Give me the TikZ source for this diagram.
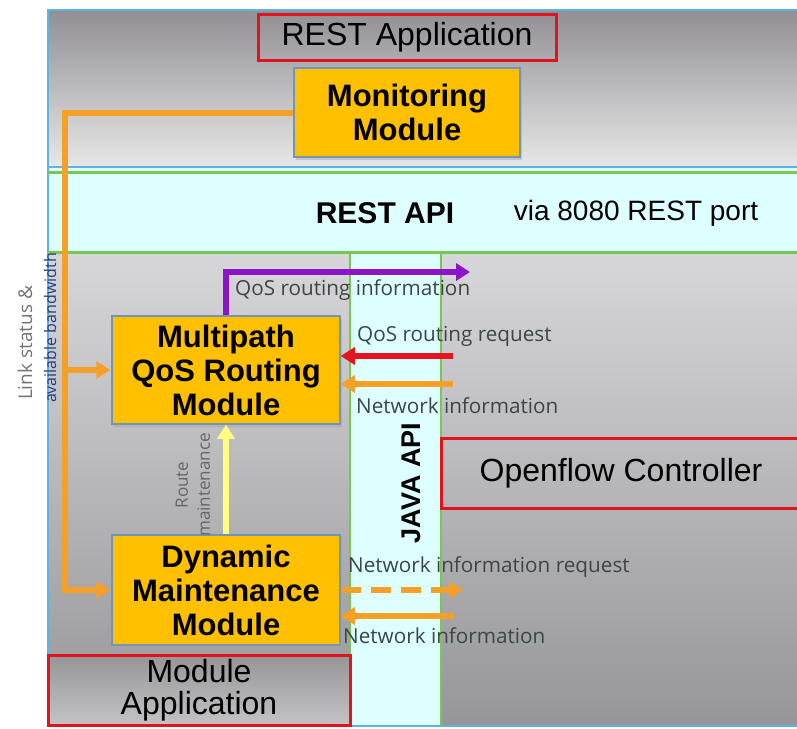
\documentclass[tikz,border=0pt]{standalone}
\usepackage{fontspec}
\setmainfont{Liberation Sans}
\newfontfamily\labfont{Open Sans}
\usetikzlibrary{arrows.meta,shadows}
\definecolor{boxfill}{RGB}{255,192,0}
\definecolor{boxline}{RGB}{110,150,190}
\definecolor{orng}{RGB}{247,160,40}
\definecolor{purp}{RGB}{140,20,200}
\definecolor{redl}{RGB}{230,20,30}
\definecolor{yell}{RGB}{255,255,130}
\definecolor{cyanbg}{RGB}{222,255,255}
\definecolor{grnl}{RGB}{120,200,80}
\definecolor{bluel}{RGB}{90,180,230}
\definecolor{redbox}{RGB}{225,20,30}
\definecolor{labtxt}{RGB}{60,70,72}
\definecolor{bwtxt}{RGB}{40,60,120}
\begin{document}
\begin{tikzpicture}[x=1pt,y=-1pt,
  modbox/.style={draw=boxline, line width=1.5pt, fill=boxfill, minimum width=228pt,
    minimum height=108pt, align=center, inner sep=0pt,
    font=\bfseries\fontsize{31}{34}\selectfont,
    drop shadow={shadow xshift=2pt, shadow yshift=-3pt, fill=black!35}},
  redframe/.style={draw=redbox, line width=3pt, align=center, inner sep=0pt,
    font=\fontsize{32}{36}\selectfont},
  lab/.style={font=\labfont\fontsize{20.7}{22}\selectfont, text=labtxt, anchor=west, inner sep=0pt},
  tip/.style={-{Triangle[length=14pt,width=17pt]}},
  oarrow/.style={orng, line width=6pt, tip},
  parrow/.style={purp, line width=6pt, tip},
  rarrow/.style={redl, line width=6pt, tip},
  yarrow/.style={yell, line width=6pt, tip},
  darrow/.style={orng, line width=6pt, tip, dash pattern=on 20pt off 10pt}]
\useasboundingbox (0,0) rectangle (797,728);
\begin{scope}
\clip (0,0) rectangle (797,728);
% backgrounds
\fill[top color={rgb,255:red,145;green,143;blue,148}, bottom color={rgb,255:red,232;green,232;blue,232}] (47,10) rectangle (800,168);
\fill[cyanbg] (47,168) rectangle (800,252);
\fill[top color={rgb,255:red,215;green,215;blue,218}, bottom color={rgb,255:red,150;green,150;blue,152}] (47,252) rectangle (800,726);
\fill[cyanbg] (350,252) rectangle (441,726);
\draw[bluel, line width=2.5pt] (800,10) -- (48,10) -- (48,726) -- (800,726);
\draw[bluel, line width=2.5pt] (48,167) -- (800,167);
\draw[grnl, line width=3pt] (48,172) -- (800,172);
\draw[grnl, line width=3pt] (48,252) -- (800,252);
\draw[grnl, line width=2.5pt] (350,252) -- (350,726);
\draw[grnl, line width=2.5pt] (441,252) -- (441,726);
% frames
\node[redframe, minimum width=298pt, minimum height=46pt] (restapp) at (407,37) {REST Application};
\node[redframe, minimum width=360pt, minimum height=70pt] (ofc) at (621,473) {Openflow Controller};
\node[redframe, minimum width=302pt, minimum height=70pt, top color={rgb,255:red,150;green,150;blue,152}, bottom color={rgb,255:red,195;green,195;blue,198}] (modapp) at (199,690) {Module\\[-4pt]Application};
% band texts
\node[font=\bfseries\fontsize{30}{34}\selectfont] (restapi) at (385,213) {REST API};
\node[font=\fontsize{28}{32}\selectfont] (via) at (636,213) {via 8080 REST port};
\node[rotate=90, font=\bfseries\fontsize{27}{30}\selectfont] (java) at (411,483) {JAVA API};
% modules
\node[modbox, minimum width=226pt, minimum height=89pt] (mon) at (407,112.5) {Monitoring\\Module};
\node[modbox] (mp) at (226,370) {Multipath\\QoS Routing\\Module};
\node[modbox, minimum height=110pt] (dyn) at (226,590) {Dynamic\\Maintenance\\Module};
% connectors
\coordinate (ltop) at (65,112.5);
\coordinate (lmid) at (65,370);
\coordinate (lbot) at (65,590);
\draw[oarrow, line join=miter] (mon.west) -- (ltop) -- (lbot) -- ([xshift=-1pt]dyn.west);
\draw[oarrow] (lmid) -- ([xshift=-1pt]mp.west);
\coordinate (pcorner) at (226,272);
\coordinate (pend) at (470,272);
\draw[parrow, line join=miter] (mp.north) -- (pcorner) -- (pend);
\coordinate (rs) at (453,356);
\draw[rarrow] (rs) -- (rs -| mp.east);
\coordinate (os) at (453,384);
\draw[oarrow] (os) -- (os -| mp.east);
\draw[yarrow] (dyn.north) -- (mp.south);
\coordinate (dq) at (463,590);
\draw[darrow] (dyn.east) -- (dq);
\coordinate (ni) at (453,616);
\draw[oarrow] (ni) -- (ni -| dyn.east);
% labels
\node[lab] (l1) at (235,290) {QoS routing information};
\node[lab] (l2) at (357,336) {QoS routing request};
\node[lab] (l3) at (356,406) {Network information};
\node[lab] (l4) at (348,567) {Network information request};
\node[lab] (l5) at (343,636) {Network information};
\node[lab, anchor=center, rotate=90, font=\labfont\fontsize{19}{19}\selectfont, text=black!55] (ls1) at (25,343) {Link status \&};
\node[lab, anchor=center, rotate=90, font=\labfont\fontsize{16}{16}\selectfont, text=bwtxt] (ls2) at (50,328) {available bandwidth};
\node[lab, anchor=center, rotate=90, align=center, font=\labfont\fontsize{17}{22}\selectfont, text=black!60] (rm) at (193,485) {Route\\maintenance};
\end{scope}
\end{tikzpicture}
\end{document}
